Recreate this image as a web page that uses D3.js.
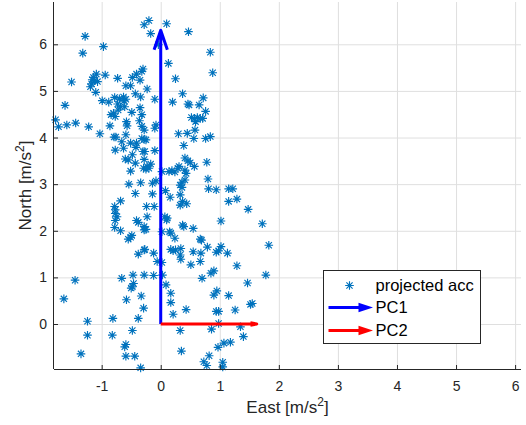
<!DOCTYPE html>
<html>
<head>
<meta charset="utf-8">
<script src="https://cdn.jsdelivr.net/npm/d3@7"></script>
<style>
    body { margin: 0; background: #fff; }
    svg { display: block; font-family: "Liberation Sans", Arial, Helvetica, sans-serif; }
    .tick text { fill: #262626; font-size: 14px; }
</style>
</head>
<body>
<div id="chart"></div>
<script>

// projected acceleration samples [east, north] in m/s^2
const projectedAcc = [
    [-0.20, 6.51], [-0.28, 6.42], [0.10, 6.44], [-0.17, 6.23], [0.47, 6.27], [-1.28, 6.17], [-0.97, 5.95], [-0.04, 5.99],
    [-1.32, 5.81], [0.84, 5.83], [0.13, 5.59], [0.88, 5.39], [0.25, 5.26], [-1.51, 5.19], [-0.94, 5.34], [-0.73, 5.27],
    [-0.30, 5.47], [-0.32, 5.42], [-0.41, 5.36], [-0.48, 5.29], [-0.35, 5.23], [-1.09, 5.36], [-1.14, 5.29], [-1.16, 5.24],
    [-1.12, 5.22], [-1.07, 5.20], [-1.17, 5.15], [-1.19, 5.09], [-1.10, 4.97], [-0.59, 5.11], [-0.51, 5.11], [-0.23, 5.04],
    [0.37, 4.94], [-0.43, 4.94], [-0.34, 4.87], [-0.10, 4.82], [0.20, 4.76], [-0.99, 4.79], [-0.88, 4.76], [-0.78, 4.86],
    [-0.70, 4.83], [-0.63, 4.87], [-0.62, 4.79], [-0.59, 4.82], [-0.73, 4.72], [-0.68, 4.66], [-0.72, 4.59], [-0.80, 4.52],
    [-0.84, 4.49], [-0.77, 4.45], [-1.62, 4.69], [-0.61, 4.66], [-0.35, 4.64], [-0.32, 4.49], [-0.49, 4.54], [0.48, 4.70],
    [0.46, 4.72], [0.65, 4.70], [0.72, 4.85], [0.76, 4.56], [0.52, 4.43], [0.57, 4.41], [0.62, 4.43], [0.67, 4.41],
    [0.71, 4.41], [0.59, 4.34], [-1.78, 4.38], [-1.73, 4.23], [-1.59, 4.27], [-1.44, 4.31], [-1.22, 4.23], [-0.86, 4.25],
    [-0.58, 4.34], [-0.57, 4.25], [-0.36, 4.36], [-0.32, 4.24], [-0.28, 4.16], [-0.08, 4.27], [-0.10, 4.20], [0.58, 4.16],
    [-1.03, 4.08], [0.30, 4.08], [0.45, 4.09], [0.56, 3.98], [0.76, 3.98], [0.84, 4.02], [-0.79, 4.01], [-0.76, 4.01],
    [-0.59, 4.06], [-0.32, 3.98], [-0.28, 3.96], [-0.25, 3.95], [-0.66, 3.91], [-0.77, 3.73], [-0.63, 3.77], [-0.51, 3.88],
    [-0.42, 3.79], [-0.41, 3.88], [-0.30, 3.70], [-0.27, 3.70], [-0.10, 3.72], [0.39, 3.83], [-0.60, 3.54], [-0.55, 3.52],
    [-0.48, 3.63], [-0.43, 3.45], [-0.28, 3.53], [-0.51, 3.28], [-0.29, 3.34], [-0.25, 3.32], [-0.23, 3.38], [-0.20, 3.34],
    [-0.17, 3.43], [0.41, 3.56], [0.46, 3.50], [0.50, 3.46], [0.57, 3.38], [0.78, 3.47], [0.80, 3.11], [0.02, 3.27],
    [0.14, 3.27], [0.19, 3.29], [0.24, 3.26], [0.29, 3.34], [0.31, 3.38], [0.41, 3.30], [0.43, 3.23], [0.41, 3.09],
    [0.36, 3.04], [0.33, 2.98], [-0.54, 3.00], [-0.34, 3.03], [-0.14, 3.02], [-0.08, 3.07], [-0.43, 2.80], [-0.14, 2.79],
    [0.08, 2.86], [0.16, 2.72], [0.33, 2.77], [0.36, 2.93], [0.81, 2.90], [0.94, 2.88], [1.15, 2.90], [1.22, 2.90],
    [1.29, 2.68], [1.48, 2.46], [1.72, 2.15], [1.83, 1.69], [1.78, 1.05], [0.33, 2.55], [0.37, 2.63], [0.44, 2.58],
    [1.15, 2.63], [-0.68, 2.64], [-0.78, 2.52], [-0.77, 2.45], [-0.77, 2.37], [-0.74, 2.30], [-0.77, 2.22], [-0.78, 2.07],
    [-0.68, 2.00], [-0.24, 2.52], [-0.11, 2.52], [-0.23, 2.30], [-0.41, 2.22], [-0.38, 2.18], [-0.28, 2.09], [-0.28, 2.02],
    [-0.25, 2.03], [0.07, 2.30], [0.10, 2.23], [0.11, 2.27], [0.37, 2.12], [0.39, 2.09], [0.55, 2.05], [1.02, 2.21],
    [0.02, 1.98], [0.15, 1.98], [0.17, 1.95], [0.24, 1.84], [0.67, 1.82], [0.69, 1.80], [-0.55, 1.82], [-0.51, 1.86],
    [-0.49, 1.90], [-0.28, 1.59], [-0.27, 1.60], [-0.38, 1.50], [-0.12, 1.52], [0.17, 1.60], [0.21, 1.57], [0.25, 1.59],
    [0.33, 1.48], [0.34, 1.62], [0.34, 1.39], [0.55, 1.55], [0.68, 1.52], [0.79, 1.65], [0.94, 1.54], [0.98, 1.57],
    [1.02, 1.66], [1.13, 1.52], [0.67, 1.34], [0.51, 1.27], [1.29, 1.25], [0.90, 1.14], [0.85, 1.09], [0.70, 0.98],
    [-0.06, 1.34], [0.02, 1.32], [-0.12, 1.04], [0.03, 1.05], [-0.28, 1.05], [-0.47, 1.05], [-0.66, 0.98], [-1.45, 0.94],
    [-0.46, 0.87], [-0.48, 0.80], [-0.50, 0.77], [0.09, 0.84], [0.17, 0.66], [0.17, 0.46], [0.21, 0.21], [-0.33, 0.60],
    [-0.29, 0.34], [-0.58, 0.52], [-1.64, 0.54], [0.43, 0.31], [0.90, 0.62], [0.95, 0.71], [1.15, 0.61], [1.47, 0.88],
    [1.52, 0.42], [1.55, 0.44], [1.26, 0.30], [0.94, 0.27], [0.98, 0.27], [-0.81, 0.12], [-1.24, 0.06], [-0.38, 0.12],
    [0.98, 0.01], [1.35, -0.06], [1.40, -0.27], [-1.24, -0.24], [-0.82, -0.24], [-0.48, -0.14], [0.33, -0.14], [0.86, -0.11],
    [-0.59, -0.44], [-0.61, -0.49], [0.35, -0.58], [0.97, -0.50], [1.07, -0.41], [1.18, -0.39], [-1.35, -0.64], [-0.59, -0.69],
    [-0.44, -0.69], [0.73, -0.81], [0.82, -0.68], [0.78, -0.89], [1.05, -0.82], [1.05, -0.92], [-0.34, -0.94]
];

// principal component vectors, drawn from the origin
const pcNames = ["PC1", "PC2"];
const pcEast = [0, 1.625];
const pcNorth = [6.3, 0];

const xTicks = [-1, 0, 1, 2, 3, 4, 5, 6];
const yTicks = [0, 1, 2, 3, 4, 5, 6];
const xDomain = [-1.807, 6.1];
const yDomain = [-0.965, 6.907];

const legendLabels = ["projected acc", "PC1", "PC2"];

const pcColor = { PC1: "#0000ff", PC2: "#ff0000" };
const markerColor = "#0072bd";
const ink = "#262626";

const W = 526, H = 425;
const margin = { top: 2, left: 54, bottom: 56, right: 5 };
const width = W - margin.left - margin.right;
const height = H - margin.top - margin.bottom;

const svg = d3.select("#chart").append("svg")
    .attr("width", W)
    .attr("height", H);

const group = svg.append("g")
    .attr("transform", "translate(" + margin.left + "," + margin.top + ")");

const x = d3.scaleLinear().domain(xDomain).range([0, width]);
const y = d3.scaleLinear().domain(yDomain).range([height, 0]);

// grid
group.append("g")
    .attr("class", "grid")
    .attr("transform", "translate(0," + height + ")")
    .call(d3.axisBottom(x).tickValues(xTicks).tickSize(-height).tickFormat(""))
    .call(g => g.select(".domain").remove());

group.append("g")
    .attr("class", "grid")
    .call(d3.axisLeft(y).tickValues(yTicks).tickSize(-width).tickFormat(""))
    .call(g => g.select(".domain").remove());

group.selectAll(".grid line").attr("stroke", "#dfdfdf").attr("stroke-width", 1);

// asterisk marker like matlab '*'
const star = (r) => {
    const d = r * 0.72;
    return "M0," + (-r) + "V" + r + "M" + (-r) + ",0H" + r +
        "M" + (-d) + "," + (-d) + "L" + d + "," + d +
        "M" + (-d) + "," + d + "L" + d + "," + (-d);
};

group.append("g")
    .selectAll("path")
    .data(projectedAcc)
    .enter().append("path")
    .attr("transform", d => "translate(" + x(d[0]) + "," + y(d[1]) + ")")
    .attr("d", star(4.3))
    .attr("fill", "none")
    .attr("stroke", markerColor)
    .attr("stroke-width", 1.15);

// quiver arrows, head sizes in data units like matlab
const headAlong = 0.066, headWide = 0.27;
const arrows = pcNames.map((name, i) => ({ name, u: pcEast[i], v: pcNorth[i] }));

const arrowG = group.selectAll(".pc-arrow")
    .data(arrows)
    .enter().append("g")
    .attr("class", "pc-arrow");

arrowG.append("path")
    .attr("d", d => {
        const bx = d.u - headAlong * d.u, by = d.v - headAlong * d.v;
        const px = -d.v * headAlong * headWide, py = d.u * headAlong * headWide;
        return "M" + x(0) + "," + y(0) + "L" + x(d.u) + "," + y(d.v) +
            "M" + x(bx + px) + "," + y(by + py) + "L" + x(d.u) + "," + y(d.v) +
            "L" + x(bx - px) + "," + y(by - py);
    })
    .attr("fill", "none")
    .attr("stroke", d => pcColor[d.name])
    .attr("stroke-width", 3)
    .attr("stroke-linejoin", "round");

// axes (box off, ticks inside)
const xAxis = group.append("g")
    .attr("transform", "translate(0," + height + ")")
    .call(d3.axisBottom(x).tickValues(xTicks).tickSize(-4).tickPadding(14).tickFormat(d => String(d)));

const yAxis = group.append("g")
    .call(d3.axisLeft(y).tickValues(yTicks).tickSize(-4).tickPadding(7).tickFormat(d => String(d)));

[xAxis, yAxis].forEach(a => {
    a.select(".domain").attr("stroke", ink).attr("d", null);
    a.selectAll("line").attr("stroke", ink);
});
xAxis.select(".domain").attr("d", "M0,0.5H" + width);
yAxis.select(".domain").attr("d", "M-0.5,0V" + height);
xAxis.selectAll("text").attr("dy", "0.35em").attr("y", 17.5);

// axis labels
const xLabel = svg.append("text")
    .attr("x", margin.left + width / 2)
    .attr("y", 413)
    .attr("text-anchor", "middle")
    .attr("fill", ink)
    .style("font-size", "17px");
xLabel.append("tspan").text("East [m/s");
xLabel.append("tspan").attr("dy", -7).style("font-size", "12px").text("2");
xLabel.append("tspan").attr("dy", 7).text("]");

const yLabel = svg.append("text")
    .attr("transform", "translate(31," + (margin.top + height / 2) + ") rotate(-90)")
    .attr("text-anchor", "middle")
    .attr("fill", ink)
    .style("font-size", "17px");
yLabel.append("tspan").text("North [m/s");
yLabel.append("tspan").attr("dy", -7).style("font-size", "12px").text("2");
yLabel.append("tspan").attr("dy", 7).text("]");

// legend
const legend = svg.append("g").attr("transform", "translate(323.5,270.5)");
legend.append("rect")
    .attr("width", 157)
    .attr("height", 73)
    .attr("fill", "#fff")
    .attr("stroke", ink)
    .attr("stroke-width", 1);

const rowY = [15, 37, 60];
const rows = legend.selectAll(".row")
    .data(legendLabels)
    .enter().append("g")
    .attr("class", "row")
    .attr("transform", (d, i) => "translate(0," + rowY[i] + ")");

rows.append("text")
    .attr("x", 52)
    .attr("dy", "0.36em")
    .attr("fill", "#000")
    .style("font-size", "16.5px")
    .text(d => d);

rows.filter(d => d === "projected acc").append("path")
    .attr("transform", "translate(26,0)")
    .attr("d", star(4.3))
    .attr("fill", "none")
    .attr("stroke", markerColor)
    .attr("stroke-width", 1.15);

const legArrows = rows.filter(d => pcNames.includes(d));
legArrows.append("line")
    .attr("x1", 5).attr("x2", 40)
    .attr("stroke", d => pcColor[d])
    .attr("stroke-width", 3);
legArrows.append("path")
    .attr("d", "M35,-4.7L49.5,0L35,4.7Z")
    .attr("fill", d => pcColor[d]);

</script>
</body>
</html>
